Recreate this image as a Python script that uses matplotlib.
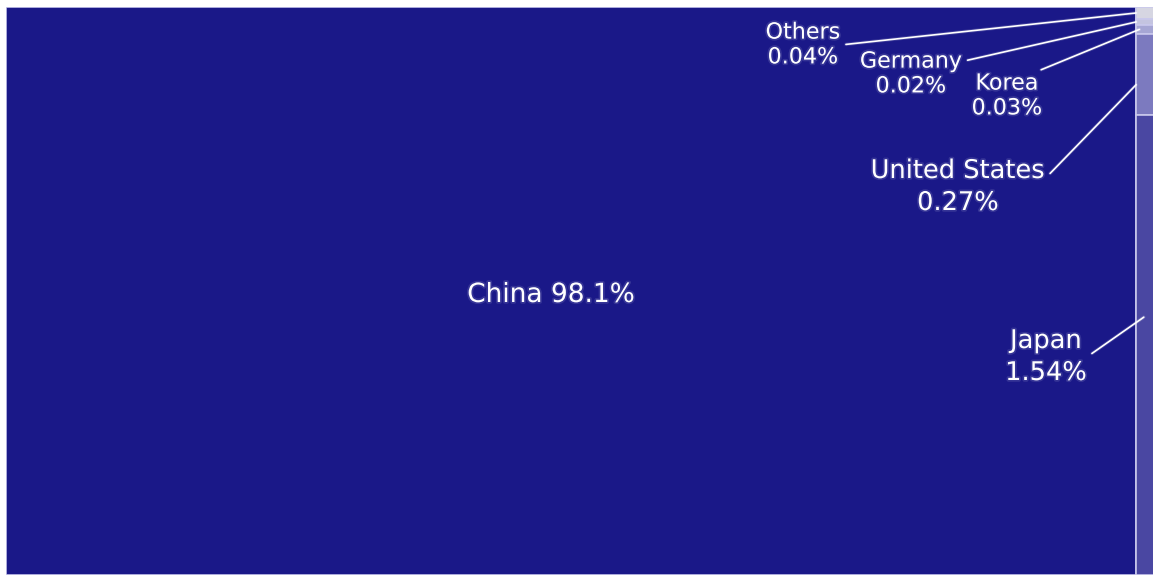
import matplotlib.pyplot as plt
import matplotlib.patheffects as pe
from matplotlib.patches import Rectangle

# share of total, %
countries = ["China", "Others", "Germany", "Korea", "United States", "Japan"]
shares = [98.1, 0.04, 0.02, 0.03, 0.27, 1.54]
labels = ["China 98.1%", "Others\n0.04%", "Germany\n0.02%", "Korea\n0.03%",
          "United States\n0.27%", "Japan\n1.54%"]
colors = ["#1a1888", "#d6d6e2", "#c4c4e0", "#a6a6d4", "#7c7abf", "#4a47a2"]

W, H = 1153, 575
fig = plt.figure(figsize=(W / 100, H / 100), dpi=100)
ax = fig.add_axes([6 / W, 0, (1158 - 6) / W, 1 - 7 / H])
total = sum(shares)
ax.set_xlim(0, total)
ax.set_ylim(0, 1)
ax.axis("off")

edge = "#c9c8ec"
# biggest cell takes full height, the rest stacked in a column on the right
x0 = shares[0]
ax.add_patch(Rectangle((0, 0), shares[0], 1, facecolor=colors[0],
                       edgecolor=edge, lw=1.2))
rest = sum(shares[1:])
rects = {}
top = 1.0
for name, v, c in zip(countries[1:], shares[1:], colors[1:]):
    h = v / rest
    ax.add_patch(Rectangle((x0, top - h), rest, h, facecolor=c,
                           edgecolor=edge, lw=1.2))
    rects[name] = (x0, top - h, h)
    top -= h

glow = [pe.withStroke(linewidth=2.5, foreground="white", alpha=0.12)]
lglow = [pe.withStroke(linewidth=2.5, foreground="white", alpha=0.15)]

ax.annotate(labels[0], xy=(551, H - 295), xycoords="figure pixels",
            color="white", fontsize=19, ha="center", va="center",
            path_effects=glow)

# label position (figure px from top), font size, relpos, target point in cell (dx, frac of height)
spec = {
    "Others": ((803, 45), 16, (1.0, 0.5), (0.0, 0.5)),
    "Germany": ((911, 74), 16, (1.0, 0.78), (0.0, 0.5)),
    "Korea": ((1007, 96), 16, (0.85, 1.0), (0.15, 0.5)),
    "United States": ((958, 187), 18.5, (1.0, 0.65), (0.0, 0.37)),
    "Japan": ((1046, 357), 18.5, (1.0, 0.5), (0.35, 0.56)),
}
for name, lab in zip(countries[1:], labels[1:]):
    (tx, ty), fs, rp, (dx, fy) = spec[name]
    cx, cy, ch = rects[name]
    ax.annotate(lab, xy=(cx + dx * rest, cy + fy * ch),
                xytext=(tx, H - ty), textcoords="figure pixels",
                color="white", fontsize=fs, ha="center", va="center",
                linespacing=1.3, path_effects=glow,
                arrowprops=dict(arrowstyle="-", color="white", lw=1.2,
                                shrinkA=2, shrinkB=0, relpos=rp,
                                path_effects=lglow))

fig.savefig("out.png", dpi=100)
